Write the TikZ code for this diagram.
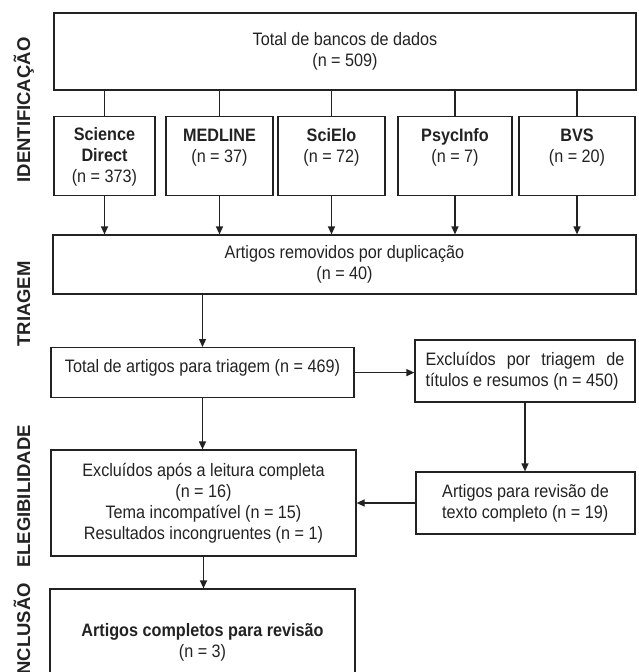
\documentclass[tikz,border=0pt]{standalone}
\usepackage{fontspec}
\setmainfont{Liberation Sans}[FakeStretch=0.9]
\newfontfamily\sidefont{Liberation Sans}
\usetikzlibrary{arrows.meta}
\definecolor{ink}{HTML}{222222}
\tikzset{
  box/.style={draw=ink, line width=1.2pt, rectangle, inner xsep=4pt, inner ysep=0pt, align=center, text=ink, font=\fontsize{18}{21}\selectfont},
  topbox/.style={box, anchor=north},
  conn/.style={draw=ink, line width=1.2pt},
  arr/.style={conn, -{Triangle[width=7pt,length=8pt]}},
  side/.style={rotate=90, anchor=base, text=ink, font=\sidefont\bfseries\fontsize{18.5}{21}\selectfont}
}
\begin{document}
\begin{tikzpicture}[x=1pt,y=-1pt]
\useasboundingbox (0,0) rectangle (638,672);
\clip (0,0) rectangle (638,672);
% side labels
\node[side] (lid) at (30,110) {IDENTIFICAÇÃO};
\node[side] (ltr) at (30,304) {TRIAGEM};
\node[side] (lel) at (30,496.5) {ELEGIBILIDADE};
\node[side] (lin) at (30,631.5) {INCLUSÃO};
% boxes
\node[box, minimum width=582pt, minimum height=77pt] (total) at (345,51.5) {Total de bancos de dados\\(n = 509)};
\node[topbox, minimum width=101pt, text height=66pt, text depth=13pt] (sd) at (104.5,116) {\textbf{Science}\\\textbf{Direct}\\(n = 373)};
\node[topbox, minimum width=107pt, text height=46pt, text depth=33pt] (med) at (219.5,116) {\textbf{MEDLINE}\\(n = 37)};
\node[topbox, minimum width=107pt, text height=46pt, text depth=33pt] (sci) at (331.5,116) {\textbf{SciElo}\\(n = 72)};
\node[topbox, minimum width=114pt, text height=46pt, text depth=33pt] (psy) at (455,116) {\textbf{PsycInfo}\\(n = 7)};
\node[topbox, minimum width=116pt, text height=46pt, text depth=33pt] (bvs) at (577,116) {\textbf{BVS}\\(n = 20)};
\node[box, minimum width=583pt, minimum height=59pt] (dup) at (344.5,264.5) {Artigos removidos por duplicação\\(n = 40)};
\node[topbox, minimum width=303pt, text height=25pt, text depth=25pt] (tri) at (202.5,347) {Total de artigos para triagem (n = 469)};
\node[box, minimum width=220pt, minimum height=62pt, text width=199pt, align=justify] (exc1) at (525,371) {Excluídos por triagem de \mbox{títulos} e resumos (n = 450)};
\node[box, minimum width=305pt, minimum height=106pt] (exc2) at (203.5,503) {Excluídos após a leitura completa\\(n = 16)\\Tema incompatível (n = 15)\\Resultados incongruentes (n = 1)};
\node[box, minimum width=219pt, minimum height=62pt, align=left] (rev) at (525.5,503) {Artigos para revisão de\\texto completo (n = 19)};
\node[box, minimum width=305pt, minimum height=106pt] (fin) at (202.5,642) {\textbf{Artigos completos para revisão}\\(n = 3)};
% connectors
\foreach \n in {sd,med,sci,psy,bvs}{
  \draw[conn] (\n.north |- total.south) -- (\n.north);
  \draw[arr] (\n.south) -- (\n.south |- dup.north);
}
\draw[arr] (tri.north |- dup.south) -- (tri.north);
\draw[arr] (tri.east) -- (exc1.west |- tri.east);
\draw[arr] (tri.south) -- (tri.south |- exc2.north);
\draw[arr] (exc1.south) -- (exc1.south |- rev.north);
\draw[arr] (rev.west) -- (exc2.east |- rev.west);
\draw[arr] (exc2.south) -- (exc2.south |- fin.north);
\end{tikzpicture}
\end{document}
